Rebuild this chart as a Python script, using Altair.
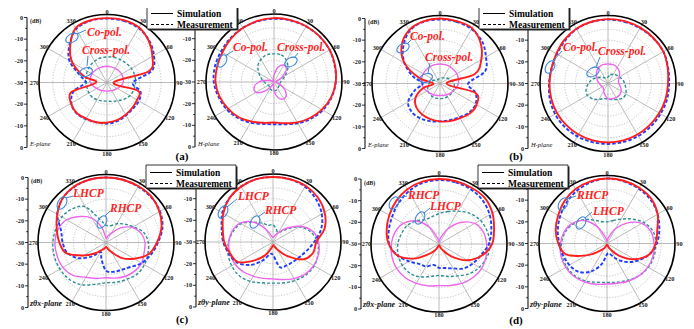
import altair as alt
import pandas as pd

# ---------------- data ----------------
ANGLES = list(range(0, 360, 15))
SERIES = ["co_sim", "co_meas", "x_sim", "x_meas"]
SPOKE_ANGLES = list(range(0, 360, 30))
RING_DB = [-25, -20, -15, -10, -5]
AXIS_DB = [0, -5, -10, -15, -20, -25, -30]
LEGEND_LABELS = ["Simulation", "Measurement"]
PLANE_LABELS = ["E-plane", "H-plane", "E-plane", "H-plane",
                "zθx-plane", "zθy-plane", "zθx-plane", "zθy-plane"]
PANEL_LETTERS = ["(a)", "(b)", "(c)", "(d)"]
NOTE_LABELS = ["Co-pol.", "Cross-pol.", "Co-pol.", "Cross-pol.",
               "Co-pol.", "Cross-pol.", "Co-pol.", "Cross-pol.",
               "LHCP", "RHCP", "LHCP", "RHCP", "RHCP", "LHCP", "RHCP", "LHCP"]

# (a) E-plane
EA_CO_SIM = [-0.3, -0.2, -0.6, -2.8, -5.8, -10, -27, -15, -14, -13.5, -12.8, -12,
             -11.5, -11, -10.8, -10.2, -10.8, -13, -25, -19, -11.5, -6, -1.0, -0.3]
EA_CO_MEAS = [-0.5, -0.5, -1.0, -2.5, -5.0, -8.5, -18, -14, -13, -13, -12.5, -11.5,
              -11, -11, -10.5, -10, -11, -14, -20, -17, -10, -5.5, -1.5, -0.5]
EA_X_SIM = [-22.5, -22.5, -22.5, -22.3, -22.2, -22.3, -22.5, -23.5, -24.5, -25.2, -25.7, -26,
            -26, -26, -25.7, -25.2, -24.5, -23.5, -22.3, -22, -22, -22.2, -22.4, -22.5]
EA_X_MEAS = [-18.2, -18, -17.8, -17.5, -17, -16.8, -16.8, -17.2, -17.8, -19, -20.3, -21,
             -21.4, -21.2, -20.8, -20.4, -20.4, -20.5, -20.5, -20, -19.5, -19, -18.6, -18.3]
# (a) H-plane
HA_CO_SIM = [-0.5, -0.4, -0.3, -0.2, -0.3, -0.8, -1.5, -2.7, -4.5, -6.5, -8.5, -10.3,
             -11.3, -10.5, -9, -7, -5.5, -4, -3, -2.8, -2.5, -1.8, -1.2, -0.8]
HA_CO_MEAS = [-0.8, -0.6, -0.4, -0.3, -0.4, -1.0, -1.5, -2.5, -4.0, -6.0, -8.0, -9.8,
              -10.5, -10.0, -8.3, -6.5, -4.8, -3.5, -2.2, -1.8, -1.8, -1.5, -1.2, -1.0]
HA_X_SIM = [-27, -23, -21, -22, -26, -29, -29, -28, -25, -22, -21, -22.5,
            -26, -29, -28, -24, -20.5, -20.5, -23, -27, -29.5, -29.5, -29.5, -29]
HA_X_MEAS = [-17, -17, -18.5, -21, -24, -26, -27, -27, -27, -27, -26.5, -26,
             -26, -26, -26.5, -27, -27, -26.5, -25.5, -24, -22, -19.5, -18, -17]
# (b) E-plane
EB_CO_SIM = [0, -0.2, -0.5, -3.5, -8, -13.5, -27, -13, -10.5, -10.5, -11.5, -12,
             -12.5, -13, -13.5, -14.5, -17, -22, -27, -20, -11, -5, -1.5, -0.3]
EB_CO_MEAS = [-0.5, -0.5, -1, -2.5, -5.5, -8.5, -17, -13, -11, -11, -12, -12.5,
              -12.5, -12, -11.5, -11.5, -13, -18, -22, -17, -11, -6, -2, -0.5]
EB_X_SIM = [-21, -21, -21, -21, -21, -21.2, -21.5, -22.2, -23, -23.5, -24, -24.3,
            -24.5, -24.3, -24, -23.5, -23, -22.2, -21.5, -21.2, -21, -21, -21, -21]
EB_X_MEAS = [-27.5, -27.3, -27, -26.3, -25.5, -24.5, -23.5, -23.2, -23, -23, -23, -23,
             -23, -23, -23, -23.2, -23.5, -24.2, -25, -26, -27, -27.5, -28, -27.8]
# (b) H-plane
HB_CO_SIM = [-0.3, -0.2, -0.2, -0.3, -0.5, -1.5, -2.3, -2.5, -2.7, -2.8, -2.8, -2.8,
             -2.8, -2.8, -2.8, -2.8, -2.8, -2.9, -3, -3, -2.5, -1.5, -0.8, -0.5]
HB_CO_MEAS = [-0.5, -0.5, -0.5, -0.5, -0.5, -1.3, -1.8, -1.8, -2, -2, -2, -2.1,
              -2.1, -2, -1.8, -1.7, -1.8, -2.2, -2.8, -3, -2.8, -2, -1, -0.6]
HB_X_SIM = [-21, -21, -21.5, -22.5, -24, -25, -25, -24, -23, -22.5, -22.5, -22.7,
            -23, -24.5, -26, -27, -27, -26.5, -26, -25, -24, -22.5, -21.5, -21]
HB_X_MEAS = [-27, -26, -25, -24.5, -24, -23, -22.3, -21.5, -20.5, -20.5, -21.5, -22.3,
             -22.8, -22.8, -21.5, -20, -19, -19.5, -21, -22.5, -24.5, -26, -27, -27.5]
# (c) zθx-plane
CX_CO_SIM = [0, 0, 0, -0.2, -1.5, -3.5, -6.5, -9.5, -15, -20, -25, -27,
             -28, -27, -26, -23, -18, -11, -8.5, -6.5, -4, -1.5, -0.3, 0]
CX_CO_MEAS = [0, 0, -0.3, -0.5, -1.2, -3, -6, -8.5, -11, -14, -15.5, -16,
              -17, -22, -25, -21, -15.5, -11.5, -10, -8.5, -4, -1.5, -0.5, 0]
CX_X_SIM = [-28, -27, -25, -20.5, -16, -13.3, -12, -11.8, -11, -11.3, -12, -13,
            -13.7, -12.8, -11.5, -8.5, -7, -6.6, -6.4, -7, -9, -13, -17, -23]
CX_X_MEAS = [-22, -22, -20, -18, -15.5, -12, -10.5, -10, -9.5, -9.5, -10.5, -11,
             -11.4, -10, -7.5, -6, -5.5, -5.3, -5.5, -6, -6.5, -8, -11, -19]
# (c) zθy-plane
CY_CO_SIM = [0, 0, 0, -0.8, -2.5, -5.3, -10, -10.8, -14, -21, -26, -28,
             -28.5, -27, -23, -18, -11.5, -9.5, -7.5, -6, -3.5, -1.5, -0.5, 0]
CY_CO_MEAS = [0, 0, -0.5, -2, -4, -7, -11, -14, -16, -17, -17.5, -18,
              -24, -24, -20, -15, -11, -9, -7, -5.5, -3, -1.5, -0.5, 0]
CY_X_SIM = [-28, -27, -25, -21, -15.5, -11, -9, -8.2, -8.3, -9, -10.5, -12,
            -13, -12.6, -11.8, -10.6, -9.7, -9.4, -9.6, -10.5, -12.5, -17, -23, -27]
CY_X_MEAS = [-22, -24, -25, -22, -16, -12, -9.5, -8.5, -8, -8.5, -9.5, -10.5,
             -11, -10.5, -9, -8, -8, -8.5, -9.5, -11, -13, -17, -20, -22]
# (d) zθx-plane
DX_CO_SIM = [0, 0, 0, 0, -1.5, -3.7, -5.5, -9.5, -15, -22, -27, -29,
             -29.5, -29, -27, -23.5, -16.5, -10, -6.8, -5, -3.5, -2, -0.8, -0.2]
DX_CO_MEAS = [-0.5, -0.5, -0.8, -1.5, -3, -5, -7, -10, -12, -14, -17, -18.5,
              -19, -20, -18, -17, -14, -10, -7, -6, -5, -3.5, -2, -0.8]
DX_X_SIM = [-29, -27, -22, -16, -11, -8.8, -8, -7.5, -7.3, -8, -9, -10.2,
            -10.8, -10, -9, -8, -7.4, -7.5, -8, -9, -11, -15, -21, -27]
DX_X_MEAS = [-16, -14.5, -12.5, -10, -8, -7, -6.5, -7, -8.5, -10.5, -13, -14.5,
             -15.5, -14.5, -12.5, -11, -10.5, -10.5, -11, -12, -13, -15, -17, -17]
# (d) zθy-plane
DY_CO_SIM = [0, 0, -0.3, -1, -3, -6, -7.5, -10, -15.5, -22, -27, -29,
             -29.5, -29, -27.5, -25, -19, -10.5, -7.5, -5.5, -4, -2.3, -1, -0.3]
DY_CO_MEAS = [0, -0.3, -0.8, -1.5, -3, -5, -7, -10, -14, -18, -22, -25,
              -25, -20, -15, -11.5, -10, -9, -8, -6.5, -5, -3.5, -2, -0.8]
DY_X_SIM = [-29, -27, -22, -16.5, -11.5, -9, -8.3, -8, -8.2, -9, -10, -11,
            -11.3, -10.5, -9.5, -8.5, -8, -8, -8.5, -9.5, -11.5, -15, -21, -27]
DY_X_MEAS = [-20, -19, -17, -14, -10.5, -8, -7.5, -7.5, -8, -9, -10.5, -11.5,
             -12, -11.5, -10, -9, -8.5, -8.5, -9, -10, -12, -14.5, -17.5, -19.5]

PANEL_DATA = [
    (EA_CO_SIM, EA_CO_MEAS, EA_X_SIM, EA_X_MEAS),
    (HA_CO_SIM, HA_CO_MEAS, HA_X_SIM, HA_X_MEAS),
    (EB_CO_SIM, EB_CO_MEAS, EB_X_SIM, EB_X_MEAS),
    (HB_CO_SIM, HB_CO_MEAS, HB_X_SIM, HB_X_MEAS),
    (CX_CO_SIM, CX_CO_MEAS, CX_X_SIM, CX_X_MEAS),
    (CY_CO_SIM, CY_CO_MEAS, CY_X_SIM, CY_X_MEAS),
    (DX_CO_SIM, DX_CO_MEAS, DX_X_SIM, DX_X_MEAS),
    (DY_CO_SIM, DY_CO_MEAS, DY_X_SIM, DY_X_MEAS),
]

# ---------------- layout (image pixel space) ----------------
R = 65          # radius of the 0 dB level
RING_R = 68     # radius of the black outer ring
LABEL_R = 71    # radius of the angle labels
PANEL_CX = [107, 274, 440, 608, 106, 273, 439, 607]
PANEL_CY = [82.5, 82, 83.5, 83.5, 242.5, 242, 244, 243.5]
AXIS_X = [27, 195, 365, 528, 28, 196, 361, 528]
UNIT_SHOWN = [1, 0, 1, 0, 1, 0, 1, 0]   # panels whose axis top is not hidden by a legend box
LETTER_POS = [(182, 157), (516, 157), (182, 320), (516, 321)]
LEGEND_POS = [(147, 6), (479, 6), (146, 165), (478, 165)]
LEGEND_W, LEGEND_H = 90, 23
NOTE_XY = [(87, 33), (82, 51), (233, 48), (277, 48), (410, 37), (425, 58), (563, 48), (598, 52),
           (73, 194), (110, 209), (238, 197), (265, 211), (408, 196), (430, 207), (577, 196), (593, 212)]
MARK_XYA = [(72, 38, 330), (86, 72, 340), (222, 61, 300), (291, 62, 330), (403, 48, 330), (426, 78, 340),
            (550, 67, 300), (593, 72, 330), (62, 203, 300), (102, 222, 300), (223, 212, 300), (255, 222, 300),
            (394, 203, 300), (420, 218, 300), (563, 204, 300), (581, 223, 300)]
POINTERS = [((77, 34), (86, 30)), ((87, 66), (88, 56)), ((225, 56), (233, 51)), ((294, 58), (298, 53)),
            ((407, 44), (411, 40)), ((428, 73), (430, 63)), ((553, 61), (562, 51)), ((596, 67), (600, 57)),
            ((66, 198), (73, 196)), ((105, 216), (110, 211)), ((227, 207), (237, 199)), ((258, 217), (265, 212)),
            ((398, 198), (407, 196)), ((424, 213), (430, 208)), ((567, 199), (576, 196)), ((585, 218), (592, 212))]

FONT = "Liberation Serif"
XS = alt.Scale(domain=[8, 686], nice=False, zero=False)
YS = alt.Scale(domain=[8, 329], nice=False, zero=False, reverse=True)


def bx(f):
    return alt.X(f + ":Q", scale=XS, axis=None)


def by(f):
    return alt.Y(f + ":Q", scale=YS, axis=None)


RAD = f"{R} * (max(datum.db, -30) + 30) / 30"

# ---------------- tables ----------------
panels = pd.DataFrame({"panel": range(8), "cx": PANEL_CX, "cy": PANEL_CY, "ax": AXIS_X,
                       "plane": PLANE_LABELS, "unit": UNIT_SHOWN})

rows = []
for p in range(8):
    for s, arr in zip(SERIES, PANEL_DATA[p]):
        for i, (a, v) in enumerate(zip(ANGLES, arr)):
            rows.append(dict(panel=p, cx=PANEL_CX[p], cy=PANEL_CY[p], series=s, idx=i, angle=a, db=v))
curves_df = pd.DataFrame(rows)

rings_df = pd.DataFrame([dict(panel=p, cx=PANEL_CX[p], cy=PANEL_CY[p], db=d)
                         for p in range(8) for d in RING_DB])
spokes_df = pd.DataFrame([dict(panel=p, cx=PANEL_CX[p], cy=PANEL_CY[p], ang=a)
                          for p in range(8) for a in SPOKE_ANGLES])
tick_rows = []
for p in range(8):
    for d in AXIS_DB:
        sides = [1] if d == -30 else [1, -1]
        for s in sides:
            hidden = 1 if (UNIT_SHOWN[p] == 0 and d == 0 and s == 1) else 0
            tick_rows.append(dict(panel=p, ax=AXIS_X[p], cy=PANEL_CY[p], db=d, side=s,
                                  major=1 if d % 10 == 0 else 0, hidden=hidden, label=str(d)))
ticks_df = pd.DataFrame(tick_rows)

letters_df = pd.DataFrame({"t": PANEL_LETTERS, "x": [q[0] for q in LETTER_POS], "y": [q[1] for q in LETTER_POS]})
notes_df = pd.DataFrame({"t": NOTE_LABELS, "x": [q[0] for q in NOTE_XY], "y": [q[1] for q in NOTE_XY]})
marks_df = pd.DataFrame({"x": [q[0] for q in MARK_XYA], "y": [q[1] for q in MARK_XYA],
                         "a": [q[2] for q in MARK_XYA]})
ptr_df = pd.DataFrame({"x0": [q[0][0] for q in POINTERS], "y0": [q[0][1] for q in POINTERS],
                       "x1": [q[1][0] for q in POINTERS], "y1": [q[1][1] for q in POINTERS]})
leg_box_df = pd.DataFrame({"x0": [q[0] for q in LEGEND_POS], "y0": [q[1] for q in LEGEND_POS]})
leg_rows = []
for (x0, y0) in LEGEND_POS:
    for k, lab in enumerate(LEGEND_LABELS):
        leg_rows.append(dict(x0=x0, y0=y0, k=k, t=lab))
leg_df = pd.DataFrame(leg_rows)

# ---------------- layers ----------------
layers = []

# dotted rings
layers.append(
    alt.Chart(rings_df).transform_calculate(sz=f"pow(2 * {RAD}, 2)")
    .mark_point(shape="circle", filled=False, color="#ababab", strokeWidth=0.7,
                strokeDash=[1.2, 1.6], opacity=1)
    .encode(x=bx("cx"), y=by("cy"), size=alt.Size("sz:Q", scale=None))
)
# spokes
layers.append(
    alt.Chart(spokes_df).transform_calculate(
        x1=f"datum.cx + {RING_R} * sin(datum.ang * PI / 180)",
        y1=f"datum.cy - {RING_R} * cos(datum.ang * PI / 180)")
    .mark_rule(color="#a9a9a9", strokeWidth=0.8)
    .encode(x=bx("cx"), y=by("cy"), x2="x1:Q", y2="y1:Q")
)
# outer ring
layers.append(
    alt.Chart(panels).transform_calculate(sz=f"pow(2 * {RING_R}, 2)")
    .mark_point(shape="circle", filled=False, color="black", strokeWidth=1.6, opacity=1)
    .encode(x=bx("cx"), y=by("cy"), size=alt.Size("sz:Q", scale=None))
)
# angle labels
layers.append(
    alt.Chart(spokes_df).transform_calculate(
        lx=f"datum.cx + ({LABEL_R} + 1.5 * abs(sin(datum.ang * PI / 180))) * sin(datum.ang * PI / 180)",
        ly=f"datum.cy - {LABEL_R} * cos(datum.ang * PI / 180)")
    .mark_text(font=FONT, fontSize=6.3, fontWeight="bold", color="#222", align="center", baseline="middle")
    .encode(x=bx("lx"), y=by("ly"), text=alt.Text("ang:Q", format="d"))
)

# curves
STYLE = {
    "x_meas": dict(color="#2b8f8f", strokeWidth=1.4, strokeDash=[3, 2]),
    "x_sim": dict(color="#ee66ee", strokeWidth=1.4),
    "co_meas": dict(color="#1f3cff", strokeWidth=1.9, strokeDash=[3.5, 2]),
    "co_sim": dict(color="#ff1f1f", strokeWidth=1.9),
}
for s in ["x_meas", "x_sim", "co_meas", "co_sim"]:
    layers.append(
        alt.Chart(curves_df).transform_filter(alt.datum.series == s)
        .transform_calculate(rr=RAD)
        .transform_calculate(px="datum.cx + datum.rr * sin(datum.angle * PI / 180)",
                             py="datum.cy - datum.rr * cos(datum.angle * PI / 180)")
        .mark_line(interpolate="cardinal-closed", **STYLE[s])
        .encode(x=bx("px"), y=by("py"), order="idx:Q", detail="panel:N")
    )

# dB axes
layers.append(
    alt.Chart(panels).transform_calculate(y0=f"datum.cy - {R}", y1=f"datum.cy + {R}")
    .mark_rule(color="black", strokeWidth=1)
    .encode(x=bx("ax"), y=by("y0"), y2="y1:Q")
)
layers.append(
    alt.Chart(ticks_df).transform_calculate(
        ty=f"datum.cy - datum.side * {R} * (datum.db + 30) / 30",
        tx="datum.ax - (datum.major == 1 ? 3 : 1.8)")
    .mark_rule(color="black", strokeWidth=0.8)
    .encode(x=bx("ax"), x2="tx:Q", y=by("ty"))
)
layers.append(
    alt.Chart(ticks_df).transform_filter((alt.datum.major == 1) & (alt.datum.hidden == 0))
    .transform_calculate(
        ty=f"datum.cy - datum.side * {R} * (datum.db + 30) / 30",
        tx="datum.ax - 4")
    .mark_text(font=FONT, fontSize=6.2, fontWeight="bold", color="#222", align="right", baseline="middle")
    .encode(x=bx("tx"), y=by("ty"), text="label:N")
)
layers.append(
    alt.Chart(panels).transform_filter(alt.datum.unit == 1)
    .transform_calculate(tx="datum.ax + 3", ty=f"datum.cy - {R} + 3.5", t="'(dB)'")
    .mark_text(font=FONT, fontSize=6, fontWeight="bold", color="#222", align="left", baseline="middle")
    .encode(x=bx("tx"), y=by("ty"), text="t:N")
)
# plane labels
layers.append(
    alt.Chart(panels).transform_filter(alt.datum.panel < 4)
    .transform_calculate(tx="datum.ax + 3", ty=f"datum.cy + {R} - 3.5")
    .mark_text(font=FONT, fontSize=6.5, fontStyle="italic", color="#111", align="left", baseline="middle")
    .encode(x=bx("tx"), y=by("ty"), text="plane:N")
)
layers.append(
    alt.Chart(panels).transform_filter(alt.datum.panel >= 4)
    .transform_calculate(tx="datum.ax + 2", ty=f"datum.cy + {R} - 4")
    .mark_text(font=FONT, fontSize=8, fontWeight="bold", fontStyle="italic", color="#111",
               align="left", baseline="middle")
    .encode(x=bx("tx"), y=by("ty"), text="plane:N")
)
# panel letters
layers.append(
    alt.Chart(letters_df)
    .mark_text(font=FONT, fontSize=11, fontWeight="bold", color="black", align="center", baseline="middle")
    .encode(x=bx("x"), y=by("y"), text="t:N")
)
# annotations
layers.append(
    alt.Chart(ptr_df).mark_rule(color="#3f86d8", strokeWidth=1)
    .encode(x=bx("x0"), y=by("y0"), x2="x1:Q", y2="y1:Q")
)
layers.append(
    alt.Chart(marks_df)
    .mark_point(shape="M-1,0A1,0.62,0,1,1,1,0A1,0.62,0,1,1,-1,0Z", filled=False,
                color="#3f86d8", strokeWidth=1.1, opacity=1, size=180)
    .encode(x=bx("x"), y=by("y"), angle=alt.Angle("a:Q", scale=None))
)
layers.append(
    alt.Chart(notes_df)
    .mark_text(font=FONT, fontSize=11.5, fontWeight="bold", fontStyle="italic", color="#ff1f1f",
               align="left", baseline="middle")
    .encode(x=bx("x"), y=by("y"), text="t:N")
)

# legends
layers.append(
    alt.Chart(leg_box_df).transform_calculate(
        a="datum.x0 + 1.5", b=f"datum.x0 + {LEGEND_W} + 1.5",
        c="datum.y0 + 1.5", d=f"datum.y0 + {LEGEND_H} + 1.5")
    .mark_rect(color="#333")
    .encode(x=bx("a"), x2="b:Q", y=by("c"), y2="d:Q")
)
layers.append(
    alt.Chart(leg_box_df).transform_calculate(b=f"datum.x0 + {LEGEND_W}", d=f"datum.y0 + {LEGEND_H}")
    .mark_rect(fill="white", stroke="black", strokeWidth=0.8)
    .encode(x=bx("x0"), x2="b:Q", y=by("y0"), y2="d:Q")
)
for k, dash in [(0, [1, 0]), (1, [3, 2])]:
    layers.append(
        alt.Chart(leg_df).transform_filter(alt.datum.k == k).transform_calculate(
            a="datum.x0 + 4", b="datum.x0 + 26", yy="datum.y0 + 7.5 + 11 * datum.k")
        .mark_rule(color="black", strokeWidth=1.2, strokeDash=dash)
        .encode(x=bx("a"), x2="b:Q", y=by("yy"))
    )
layers.append(
    alt.Chart(leg_df).transform_calculate(a="datum.x0 + 30", yy="datum.y0 + 7.5 + 11 * datum.k")
    .mark_text(font=FONT, fontSize=9.5, fontWeight="bold", color="black", align="left", baseline="middle")
    .encode(x=bx("a"), y=by("yy"), text="t:N")
)

chart = (
    alt.layer(*layers)
    .properties(width=678, height=321, autosize=alt.AutoSizeParams(type="none"), padding=0,
                background="white")
    .configure_view(strokeWidth=0)
)

chart.save("out.html", embed_options={"renderer": "svg", "actions": False})
